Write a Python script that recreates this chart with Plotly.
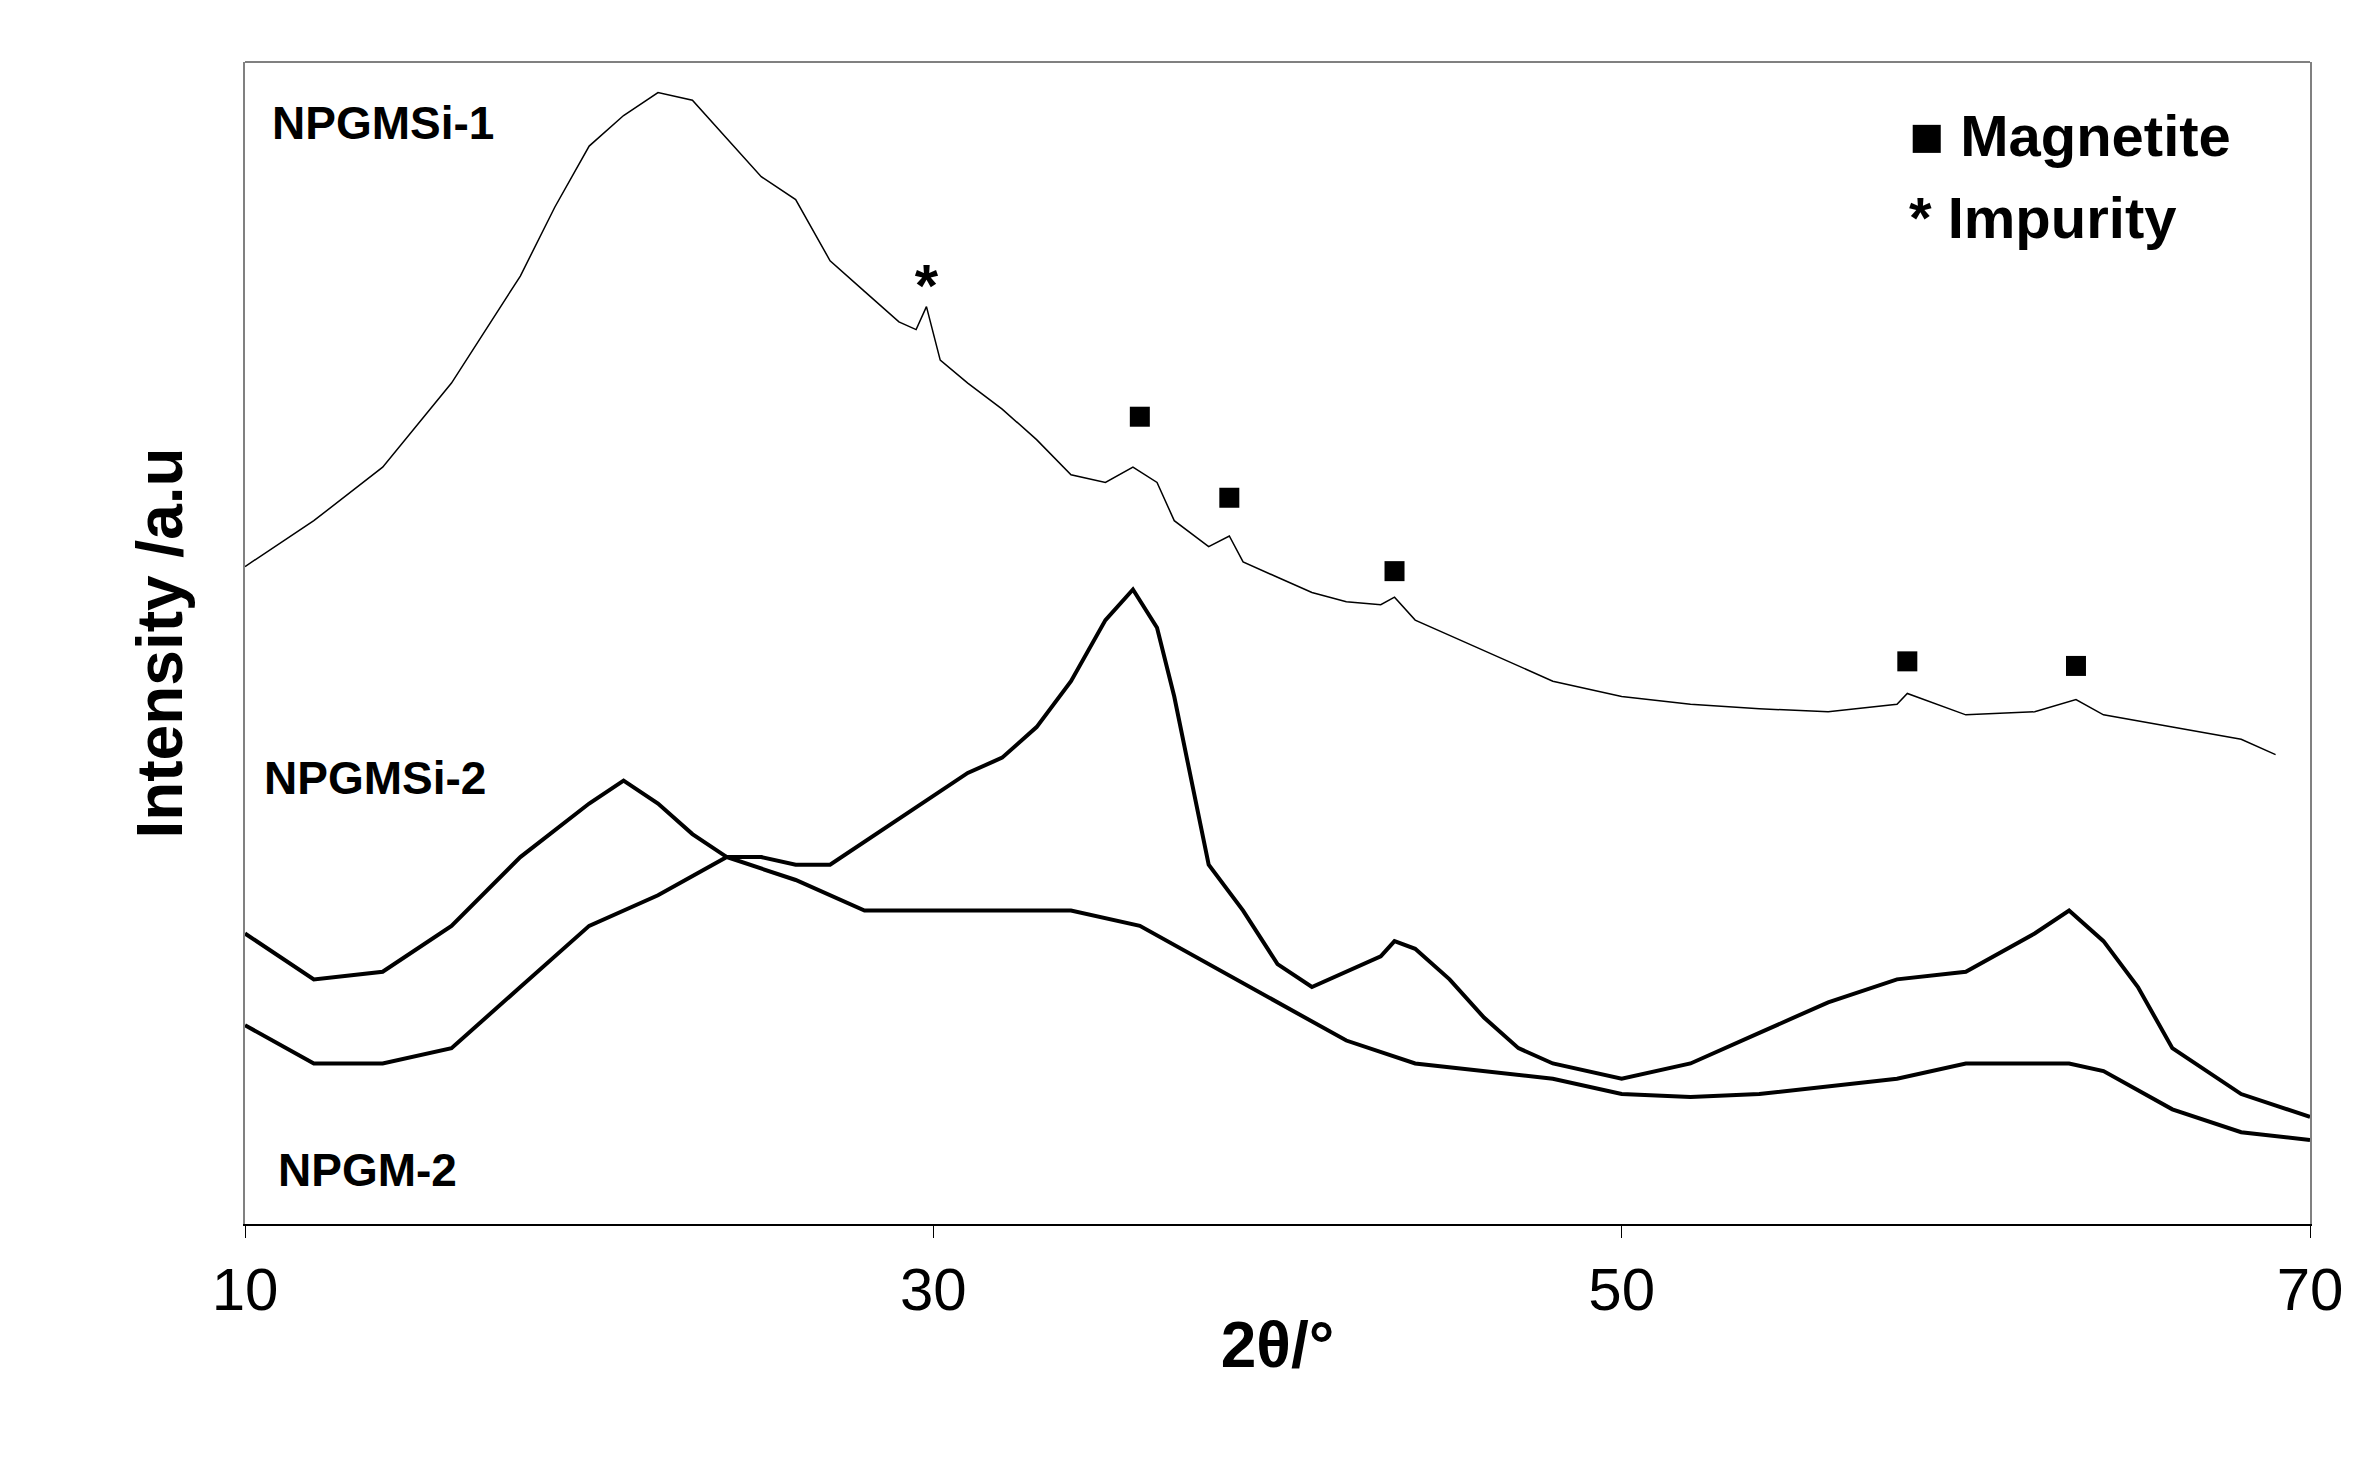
import numpy as np
import plotly.graph_objects as go

# values (arbitrary intensity units, higher = more intense)
x1 = [10,12,14,16,18,19,20,21,22,23,24,25,26,27,28,29,29.5,29.8,30.2,31,32,33,34,35,35.8,36.5,37,38,38.6,39,40,41,42,43,43.4,44,45,46,47,48,50,52,54,56,58,58.3,60,62,63.2,64,66,68,69]
y1p = [365,335,300,245,175,130,90,70,55,60,85,110,125,165,185,205,210,195,230,245,262,282,305,310,300,310,335,352,345,362,372,382,388,390,385,400,410,420,430,440,450,455,458,460,455,448,462,460,452,462,470,478,488]
x2 = [10,12,14,16,18,20,21,22,23,24,25,26,27,28,29,30,31,32,33,34,35,35.8,36.5,37,38,39,40,41,42,43,43.4,44,45,46,47,48,50,52,54,56,58,60,62,63,64,65,66,68,70]
y2p = [605,635,630,600,555,520,505,520,540,555,555,560,560,545,530,515,500,490,470,440,400,380,405,450,560,590,625,640,630,620,610,615,635,660,680,690,700,690,670,650,635,630,605,590,610,640,680,710,725]
x3 = [10,12,14,16,18,20,22,24,26,28,30,32,34,36,38,40,42,44,46,48,50,52,54,56,58,60,62,63,64,66,68,70]
y3p = [665,690,690,680,640,600,580,555,570,590,590,590,590,600,625,650,675,690,695,700,710,712,710,705,700,690,690,690,695,720,735,740]
mag_x = [36, 38.6, 43.4, 58.3, 63.2]
mag_yp = [267, 320, 368, 427, 430]
imp_x, imp_yp = [29.8], [185]

def I(v): return 800 - np.array(v)

fig = go.Figure()
fig.add_trace(go.Scatter(x=x1, y=I(y1p), mode='lines', line=dict(color='black', width=1.5)))
fig.add_trace(go.Scatter(x=x2, y=I(y2p), mode='lines', line=dict(color='black', width=4)))
fig.add_trace(go.Scatter(x=x3, y=I(y3p), mode='lines', line=dict(color='black', width=4)))
fig.add_trace(go.Scatter(x=mag_x, y=I(mag_yp), mode='markers', marker=dict(symbol='square', size=20, color='black')))
fig.add_trace(go.Scatter(x=imp_x, y=I(imp_yp), mode='text', text=['<b>*</b>'], textfont=dict(size=60, color='black', family='Liberation Sans')))

bf = dict(family='Liberation Sans', color='black', size=46)
ann = [
    dict(x=0.012, y=I([75])[0], xref='paper', yref='y', text='<b>NPGMSi-1</b>', showarrow=False, xanchor='left', font=bf),
    dict(x=0.008, y=I([503])[0], xref='paper', yref='y', text='<b>NPGMSi-2</b>', showarrow=False, xanchor='left', font=bf),
    dict(x=0.015, y=I([760])[0], xref='paper', yref='y', text='<b>NPGM-2</b>', showarrow=False, xanchor='left', font=bf),
    dict(x=0.805, y=I([83])[0], xref='paper', yref='y', text='<b>■ Magnetite</b>', showarrow=False, xanchor='left', font=dict(family='Liberation Sans', color='black', size=58)),
    dict(x=0.805, y=I([137])[0], xref='paper', yref='y', text='<b>* Impurity</b>', showarrow=False, xanchor='left', font=dict(family='Liberation Sans', color='black', size=58)),
]
fig.update_layout(
    width=2371, height=1477, showlegend=False, plot_bgcolor='white', paper_bgcolor='white',
    margin=dict(l=237, r=69, t=54, b=261), annotations=ann,
    xaxis=dict(range=[10,70], tickvals=[10,30,50,70], ticks='outside', ticklen=12, tickcolor='black',
               showline=True, linecolor='black', linewidth=2, mirror=False, showgrid=False,
               tickfont=dict(family='Liberation Sans', size=60, color='black'),
               title=dict(text='<b>2θ/°</b>', font=dict(family='Liberation Sans', size=64, color='black'), standoff=0)),
    yaxis=dict(range=[5, 765], showticklabels=False, ticks='', showgrid=False, zeroline=False,
               showline=True, linecolor='grey', linewidth=2, mirror=True,
               title=dict(text='<b>Intensity /a.u</b>', font=dict(family='Liberation Sans', size=64, color='black'), standoff=40)),
)
fig.add_shape(type='line', xref='paper', yref='paper', x0=0, x1=1, y0=1, y1=1, line=dict(color='grey', width=2))
fig.write_html("out.html")
